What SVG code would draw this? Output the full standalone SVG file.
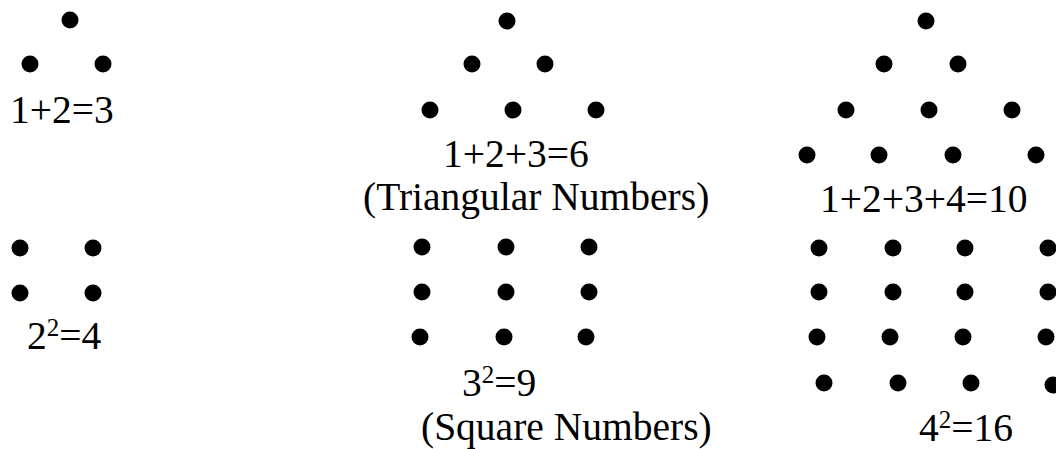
<svg xmlns="http://www.w3.org/2000/svg" width="1056" height="449" viewBox="0 0 1056 449">
<style>
.d{fill:#000}
text{font-family:"Liberation Serif","Times New Roman",serif;font-size:39.5px;fill:#000}
.sup{font-size:25px}
</style>
<defs><circle id="dot" r="8.5" class="d"/></defs>
<rect width="1056" height="449" fill="#fff"/>
<g id="tri3">
<use href="#dot" x="70" y="20"/><use href="#dot" x="30" y="64"/><use href="#dot" x="103" y="64"/>
<text x="10" y="123">1+2=3</text>
</g>
<g id="tri6">
<use href="#dot" x="507" y="21"/>
<use href="#dot" x="472" y="64"/><use href="#dot" x="545" y="64"/>
<use href="#dot" x="430" y="110"/><use href="#dot" x="513" y="110"/><use href="#dot" x="596" y="110"/>
<text x="443" y="167">1+2+3=6</text>
<text x="363" y="210">(Triangular Numbers)</text>
</g>
<g id="tri10">
<use href="#dot" x="926" y="21"/>
<use href="#dot" x="884" y="64"/><use href="#dot" x="958" y="64"/>
<use href="#dot" x="846" y="110"/><use href="#dot" x="929" y="110"/><use href="#dot" x="1012" y="110"/>
<use href="#dot" x="807" y="155"/><use href="#dot" x="879" y="155"/><use href="#dot" x="953" y="155"/><use href="#dot" x="1036" y="155"/>
<text x="820" y="212">1+2+3+4=10</text>
</g>
<g id="sq4">
<use href="#dot" x="20" y="248"/><use href="#dot" x="93" y="248"/>
<use href="#dot" x="20" y="293"/><use href="#dot" x="93" y="293"/>
<text x="27" y="349">2<tspan class="sup" dy="-13">2</tspan><tspan dy="13">=4</tspan></text>
</g>
<g id="sq9">
<use href="#dot" x="422" y="247"/><use href="#dot" x="506" y="247"/><use href="#dot" x="589" y="247"/>
<use href="#dot" x="422" y="292"/><use href="#dot" x="506" y="292"/><use href="#dot" x="589" y="292"/>
<use href="#dot" x="420" y="337"/><use href="#dot" x="504" y="337"/><use href="#dot" x="586" y="337"/>
<text x="462" y="396">3<tspan class="sup" dy="-13">2</tspan><tspan dy="13">=9</tspan></text>
<text x="421" y="440">(Square Numbers)</text>
</g>
<g id="sq16">
<use href="#dot" x="819" y="248"/><use href="#dot" x="893" y="248"/><use href="#dot" x="965" y="248"/><use href="#dot" x="1048" y="248"/>
<use href="#dot" x="819" y="292"/><use href="#dot" x="893" y="292"/><use href="#dot" x="965" y="292"/><use href="#dot" x="1048" y="292"/>
<use href="#dot" x="817" y="337"/><use href="#dot" x="890" y="337"/><use href="#dot" x="963" y="337"/><use href="#dot" x="1046" y="337"/>
<use href="#dot" x="824" y="383"/><use href="#dot" x="898" y="383"/><use href="#dot" x="971" y="383"/><use href="#dot" x="1053" y="385"/>
<text x="919" y="441">4<tspan class="sup" dy="-13">2</tspan><tspan dy="13">=16</tspan></text>
</g>
<g id="connectors"/>
</svg>
